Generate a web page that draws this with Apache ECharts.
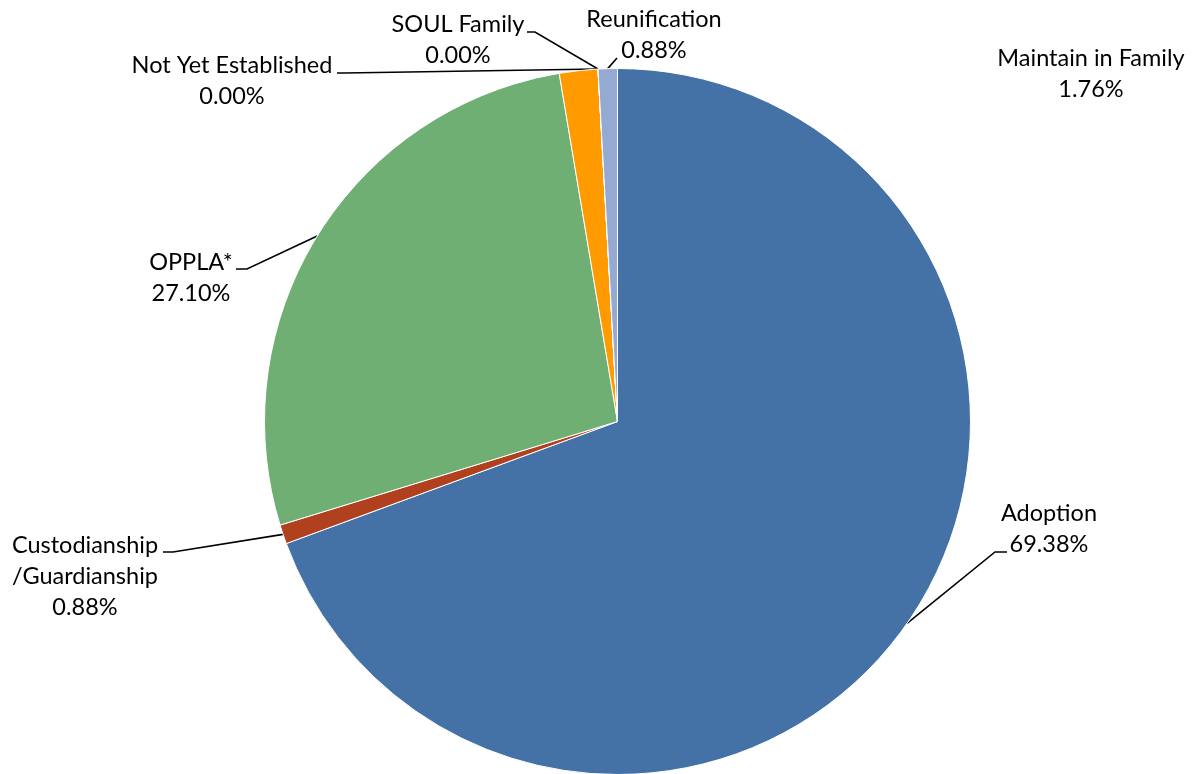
<!DOCTYPE html>
<html>
<head>
<meta charset="utf-8">
<script src="https://cdn.jsdelivr.net/npm/echarts@6/dist/echarts.min.js"></script>
<style>
html,body{margin:0;padding:0;background:#fff;}
#chart{width:1196px;height:774px;}
</style>
</head>
<body>
<div id="chart"></div>
<script>
// ---- data ----
var categories = ["Adoption", "Custodianship/Guardianship", "OPPLA*", "Maintain in Family", "Not Yet Established", "SOUL Family", "Reunification"];
var percents = [69.38, 0.88, 27.10, 1.76, 0.00, 0.00, 0.88];
var colors = ["#4472A6", "#B0401E", "#6FAF74", "#FF9A00", "#8E44AD", "#7F7F7F", "#95AAD3"];

// ---- label placement (styling, kept out of the data) ----
var labelPos = {
  "Adoption": {x: 1049, y: 529, line: [[995, 552], [1007, 552]]},
  "Custodianship/Guardianship": {x: 85, y: 576, line: [[173, 552], [163, 552]]},
  "OPPLA*": {x: 191, y: 278, line: [[247, 269], [236, 269]]},
  "Maintain in Family": {x: 1091, y: 74, line: null},
  "Not Yet Established": {x: 232, y: 81, line: [[345, 73], [337, 73]]},
  "SOUL Family": {x: 458, y: 40, line: [[535, 32], [527, 32]]},
  "Reunification": {x: 654, y: 35, line: [[617, 58], [617, 58]]}
};

var seriesData = categories.map(function (c, i) {
  var item = {name: c, value: percents[i], itemStyle: {color: colors[i]}};
  if (!labelPos[c].line) item.labelLine = {show: false};
  return item;
});

var chart = echarts.init(document.getElementById('chart'), null, {renderer: 'canvas'});
chart.setOption({
  animation: false,
  backgroundColor: '#ffffff',
  series: [{
    type: 'pie',
    center: [617.5, 421.5],
    radius: 353,
    startAngle: 90,
    clockwise: true,
    avoidLabelOverlap: false,
    minShowLabelAngle: 0,
    itemStyle: {borderColor: '#ffffff', borderWidth: 1},
    label: {
      show: true,
      position: 'outside',
      color: '#000000',
      fontFamily: 'Lato',
      fontSize: 23.5,
      lineHeight: 31,
      align: 'center',
      formatter: function (p) {
        return p.name.replace('/', '\n/') + '\n' + p.value.toFixed(2) + '%';
      }
    },
    labelLine: {
      show: true,
      length: 10,
      length2: 10,
      smooth: false,
      lineStyle: {color: '#000000', width: 1.6}
    },
    emphasis: {disabled: true},
    labelLayout: function (params) {
      var name = categories[params.dataIndex];
      var pos = labelPos[name];
      var res = {x: pos.x, y: pos.y, align: 'center', verticalAlign: 'middle'};
      if (pos.line && params.labelLinePoints) {
        var start = params.labelLinePoints[0];
        res.labelLinePoints = [start, pos.line[0], pos.line[1]];
      }
      return res;
    },
    data: seriesData
  }]
});
</script>
</body>
</html>
